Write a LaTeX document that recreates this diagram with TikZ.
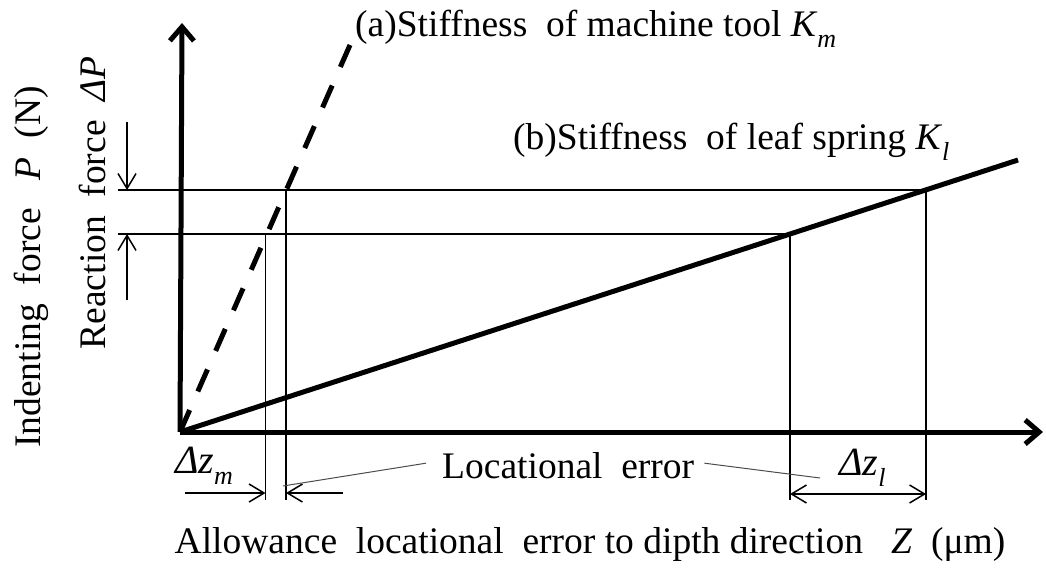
\documentclass[tikz,border=0pt]{standalone}
\usepackage{fontspec}
\setmainfont{Liberation Serif}
\usetikzlibrary{arrows.meta}
\newcommand\sbs[1]{\raisebox{-0.28em}{\fontsize{26}{26}\selectfont #1}}
\begin{document}
\begin{tikzpicture}[x=1pt,y=-1pt,
  axis/.style={line width=5pt,-{Straight Barb[length=14pt,width=24pt,line width=5pt]}},
  thick line/.style={line width=5pt},
  dashline/.style={line width=5pt,dash pattern=on 24pt off 20.3pt},
  thin/.style={line width=1.5pt},
  dim/.style={line width=1.5pt,-{Straight Barb[length=15pt,width=18pt]}},
  dimboth/.style={line width=1.5pt,{Straight Barb[length=15pt,width=18pt]}-{Straight Barb[length=15pt,width=18pt]}},
  leader/.style={line width=1pt,black!70},
  lab/.style={inner sep=0pt,font=\fontsize{37.5}{44}\selectfont}]
\useasboundingbox (0,0) rectangle (1046,585);
% key coordinates
\coordinate (O) at (180,432);
\coordinate (Ytip) at (182,23);
\coordinate (Xtip) at (1043,432);
\coordinate (Aend) at (350,45);
\coordinate (Bend) at (1018,160);
\coordinate (Am1) at (265.5,234);
\coordinate (Am2) at (286,190);
\coordinate (Bl1) at (790,234);
\coordinate (Bl2) at (926,190);
\coordinate (H1) at (118,190);
\coordinate (H2) at (118,234);
\coordinate (Am1b) at (265.5,500);
\coordinate (Am2b) at (286,500);
\coordinate (Bl1b) at (790,500);
\coordinate (Bl2b) at (926,500);
% reference lines
\draw[thin] (H1) -- (Bl2);
\draw[thin] (H2) -- (Bl1);
\draw[thin] (Am1) -- (Am1b);
\draw[thin] (Am2) -- (Am2b);
\draw[thin] (Bl1) -- (Bl1b);
\draw[thin] (Bl2) -- (Bl2b);
% stiffness lines
\draw[thick line] (O) -- (Bend);
\draw[dashline] (O) -- (Aend);
% axes
\draw[axis] (O) -- (Ytip);
\draw[axis] (O) -- (Xtip);
% dimension arrows
\coordinate (dm1) at (185,493);
\coordinate (dm2) at (265.5,493);
\coordinate (dm3) at (343,493);
\coordinate (dm4) at (286,493);
\draw[dim] (dm1) -- (dm2);
\draw[dim] (dm3) -- (dm4);
\coordinate (dl1) at (790,494);
\coordinate (dl2) at (926,494);
\draw[dimboth] (dl1) -- (dl2);
\coordinate (dp1) at (127,122);
\coordinate (dp2) at (127,190);
\coordinate (dp3) at (127,300);
\coordinate (dp4) at (127,234);
\draw[dim] (dp1) -- (dp2);
\draw[dim] (dp3) -- (dp4);
% labels
\node[lab,anchor=base west] (la) at (355,37) {(a)Stiffness\ \ of\ machine\ tool\ \textit{K}\sbs{\textit{m}}};
\node[lab,anchor=base west] (lb) at (513,150) {(b)Stiffness\ \ of\ leaf\ spring\ \textit{K}\sbs{\textit{l}}};
\node[lab,anchor=base west] (loc) at (442,478) {Locational\ \ error};
\node[lab,anchor=base west] (dzm) at (175,473) {\fontsize{40}{44}\selectfont\textit{Δz}\sbs{\textit{m}}};
\node[lab,anchor=base west] (dzl) at (839,475) {\fontsize{40}{44}\selectfont\textit{Δz}\sbs{\textit{l}}};
\node[lab,anchor=base] (xl) at (590,553) {Allowance\ \ locational\ \ error\ to\ dipth\ direction\ \ \ \textit{Z}\ \ (μm)};
\node[lab,anchor=base,rotate=90] (yl) at (40,267) {Indenting\ \ force\ \ \ \textit{P}\ \ (N)};
\node[lab,anchor=base,rotate=90] (rl) at (105,203) {Reaction\ \ force\ \ \textit{ΔP}};
% leaders
\coordinate (lc1) at (283,486);
\coordinate (lc2) at (820,478);
\draw[leader] (loc.west) ++(-16,-2) -- (lc1);
\draw[leader] (loc.east) ++(10,-2) -- (lc2);
\end{tikzpicture}
\end{document}
